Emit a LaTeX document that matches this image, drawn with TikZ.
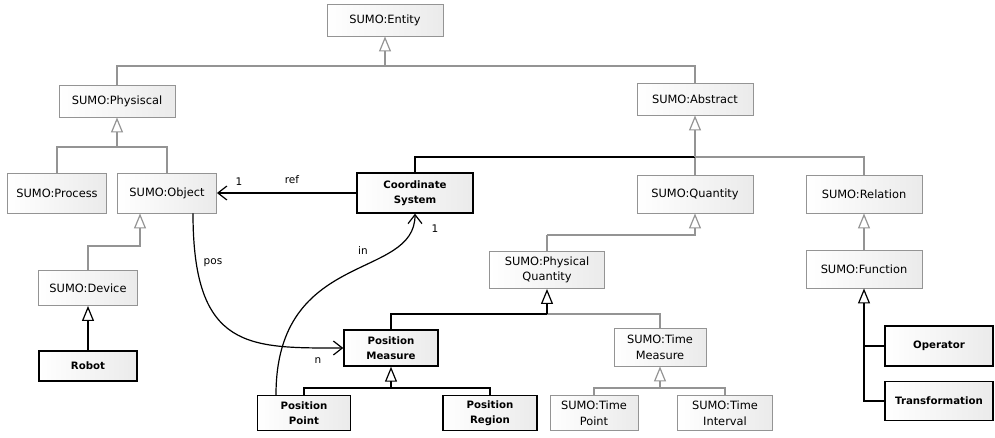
\documentclass[tikz,border=0pt]{standalone}
\usepackage{fontspec}
\setmainfont{DejaVu Sans}
\usetikzlibrary{arrows.meta}

\begin{document}
\begin{tikzpicture}[x=1pt, y=-1pt,
  sumo/.style={draw=black!42, line width=0.9pt, left color=white, right color=black!8,
    align=center, inner sep=0pt, font=\fontsize{11.4}{15.5}\selectfont},
  own/.style={sumo, draw=black, line width=1.4pt, font=\bfseries\fontsize{10.2}{15.5}\selectfont},
  wh/.style 2 args={minimum width=#1, minimum height=#2},
  gline/.style={draw=black!42, line width=1.2pt},
  bline/.style={draw=black, line width=1.2pt},
  gen/.style={-{Triangle[open, width=12pt, length=15pt]}},
  assoc/.style={bline, -{Straight Barb[length=9pt, width=14pt]}},
  lbl/.style={inner sep=1pt, font=\fontsize{10.5}{12}\selectfont}]
\useasboundingbox (0,0) rectangle (995,437);

% SUMO classes
\node[sumo, wh={116}{32}] (ent)  at (385,20)  {SUMO:Entity};
\node[sumo, wh={116}{32}] (phys) at (117,101) {SUMO:Physiscal};
\node[sumo, wh={116}{32}] (abs)  at (695,99)  {SUMO:Abstract};
\node[sumo, wh={99}{40}]  (proc) at (57,193)  {SUMO:Process};
\node[sumo, wh={99}{40}]  (obj)  at (167,193) {SUMO:Object};
\node[sumo, wh={116}{38}] (qty)  at (695,194) {SUMO:Quantity};
\node[sumo, wh={116}{38}] (rel)  at (864,194) {SUMO:Relation};
\node[sumo, wh={99}{35}]  (dev)  at (88,288)  {SUMO:Device};
\node[sumo, wh={115}{37}] (pq)   at (547,270) {SUMO:Physical\\Quantity};
\node[sumo, wh={116}{38}] (fn)   at (864,269) {SUMO:Function};
\node[sumo, wh={92}{38}]  (tm)   at (660,347) {SUMO:Time\\Measure};
\node[sumo, wh={88}{35}]  (tp)   at (594,413) {SUMO:Time\\Point};
\node[sumo, wh={95}{35}]  (ti)   at (725,413) {SUMO:Time\\Interval};

% own classes
\node[own, wh={116}{40}] (cs)  at (415,193) {Coordinate\\System};
\node[own, wh={98}{30}]  (rob) at (88,366)  {Robot};
\node[own, wh={94}{36}]  (pm)  at (391,348) {Position\\Measure};
\node[own, wh={93}{35}]  (pp)  at (304,413) {Position\\Point};
\node[own, wh={94}{35}]  (pr)  at (490,413) {Position\\Region};
\node[own, wh={108}{40}] (op)  at (939,346) {Operator};
\node[own, wh={108}{39}] (tr)  at (939,401) {Transformation};

% generalisations
\coordinate (jent) at (385,66);
\draw[gline] (phys.north) |- (jent) -| (abs.north);
\draw[gline, gen] (jent) -- (ent.south);

\coordinate (jphys) at (117,147);
\draw[gline] (proc.north) |- (jphys) -| (obj.north);
\draw[gline, gen] (jphys) -- (phys.south);

\coordinate (jabs) at (695,157);
\draw[gline] (qty.north) -- (jabs) -| (rel.north);
\draw[bline] (cs.north) |- (jabs);
\draw[gline, gen] (jabs) -- (abs.south);

\coordinate (jobj) at (140,246);
\draw[gline, gen] (dev.north) |- (jobj) -- (jobj |- obj.south);
\draw[bline, gen] (rob.north) -- (dev.south);

\coordinate (jqty) at (547,235);
\draw[gline] (pq.north) -- (jqty);
\draw[gline, gen] (jqty) -| (qty.south);

\coordinate (jpq) at (547,314);
\draw[gline] (tm.north) |- (jpq);
\draw[bline] (pm.north) |- (jpq);
\draw[bline, gen] (jpq) -- (pq.south);

\coordinate (jpm) at (391,388);
\draw[bline] (pp.north) |- (jpm) -| (pr.north);
\draw[bline, gen] (jpm) -- (pm.south);

\coordinate (jtm) at (660,388);
\draw[gline] (tp.north) |- (jtm) -| (ti.north);
\draw[gline, gen] (jtm) -- (tm.south);

\draw[gline, gen] (fn.north) -- (rel.south);
\draw[bline] (op.west) -- (op.west -| fn.south);
\draw[bline, gen] (tr.west) -| (fn.south);

% associations
\draw[assoc] (cs.west) -- (obj.east);
\draw[assoc] ([xshift=26pt]obj.south) .. controls +(0,137) and +(-94,0) .. (pm.west);
\draw[assoc] ([xshift=-28pt]pp.north) .. controls +(0,-146) and +(0,67) .. (cs.south);

\node[lbl] (lref)  at (292,180) {ref};
\node[lbl] (lref1) at (239,182) {1};
\node[lbl] (lpos)  at (213,263) {pos};
\node[lbl] (ln)    at (318,361) {n};
\node[lbl] (lin)   at (363,251) {in};
\node[lbl] (lin1)  at (435,229) {1};
\end{tikzpicture}
\end{document}
